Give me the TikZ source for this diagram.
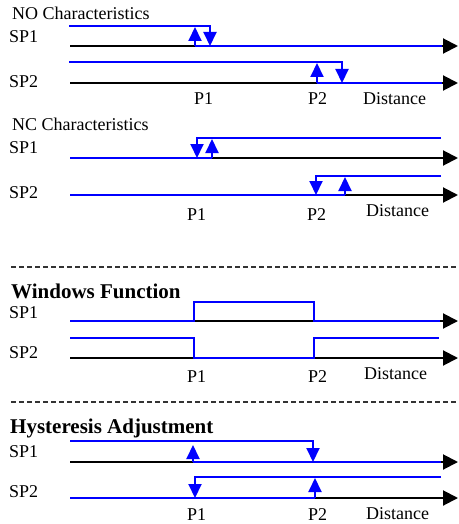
\documentclass[tikz,border=0pt]{standalone}
\usepackage{fontspec}
\setmainfont{Liberation Serif}
\usetikzlibrary{arrows.meta}

\begin{document}
\begin{tikzpicture}
		[
		x=1pt, y=-1pt,
		txt/.style ={anchor=base west, inner sep=0pt, font=\fontsize{18}{20}\selectfont},
		head/.style ={anchor=base west, inner sep=0pt, font=\fontsize{21}{24}\selectfont\bfseries},
		axis/.style ={line width=2pt, black, -{Triangle[length=15pt, width=15pt]}},
		sig/.style ={line width=2pt, blue},
		sw/.style ={line width=2pt, blue, -{Triangle[length=14pt, width=13pt]}},
		sep/.style ={line width=2pt, black!80, dash pattern=on 5pt off 3pt}
		]
		\useasboundingbox (0,0) rectangle (458,524);
		% NO characteristics
		\node (no) [txt] at (12,19.5) {NO Characteristics};
		\node (no1) [txt] at (9,43) {SP1};
		\node (no2) [txt] at (9,88) {SP2};
		\draw[axis] (70,46) -- (458,46);
		\draw[axis] (70,83) -- (458,83);
		\draw[sig] (195,46) -- (442,46);
		\draw[sw] (69,26) -- (210,26) -- (210,46);
		\draw[sw] (195,46) -- (195,27);
		\draw[sig] (317,83) -- (442,83);
		\draw[sw] (69,62) -- (342,62) -- (342,83);
		\draw[sw] (317,83) -- (317,63);
		\node (nop1) [txt] at (194,104) {P1};
		\node (nop2) [txt] at (308,104) {P2};
		\node (nod) [txt] at (363,104) {Distance};
		% NC characteristics
		\node (nc) [txt] at (12,130) {NC Characteristics};
		\node (nc1) [txt] at (9,153) {SP1};
		\node (nc2) [txt] at (9,198) {SP2};
		\draw[axis] (70,158) -- (458,158);
		\draw[axis] (70,195) -- (458,195);
		\draw[sig] (70,158) -- (212,158);
		\draw[sw] (441,138) -- (197,138) -- (197,158);
		\draw[sw] (212,158) -- (212,139);
		\draw[sig] (70,195) -- (345,195);
		\draw[sw] (441,176) -- (316,176) -- (316,195);
		\draw[sw] (345,195) -- (345,177);
		\node (ncp1) [txt] at (187,220) {P1};
		\node (ncp2) [txt] at (307,220) {P2};
		\node (ncd) [txt] at (366,216) {Distance};
		\draw[sep] (11,267) -- (458,267);
		% windows function
		\node (win) [head] at (11,298) {Windows Function};
		\node (win1) [txt] at (9,318) {SP1};
		\node (win2) [txt] at (9,358) {SP2};
		\draw[axis] (70,321) -- (458,321);
		\draw[axis] (70,358) -- (458,358);
		\draw[sig] (70,321) -- (194,321) -- (194,302) -- (314,302) -- (314,321) -- (440,321);
		\draw[sig] (70,338) -- (194,338) -- (194,358) -- (314,358) -- (314,338) -- (439,338);
		\node (winp1) [txt] at (187,382) {P1};
		\node (winp2) [txt] at (308,382) {P2};
		\node (wind) [txt] at (364,379) {Distance};
		\draw[sep] (11,402) -- (458,402);
		% hysteresis adjustment
		\node (hys) [head] at (10,433) {Hysteresis Adjustment};
		\node (hys1) [txt] at (9,457) {SP1};
		\node (hys2) [txt] at (9,497) {SP2};
		\draw[axis] (70,462) -- (458,462);
		\draw[axis] (70,498) -- (458,498);
		\draw[sig] (193,462) -- (441,462);
		\draw[sw] (70,441) -- (313,441) -- (313,462);
		\draw[sw] (193,462) -- (193,445);
		\draw[sig] (70,498) -- (315,498);
		\draw[sw] (441,477) -- (195,477) -- (195,498);
		\draw[sw] (315,498) -- (315,478);
		\node (hysp1) [txt] at (187,520) {P1};
		\node (hysp2) [txt] at (308,520) {P2};
		\node (hysd) [txt] at (366,519) {Distance};
	\end{tikzpicture}
\end{document}
